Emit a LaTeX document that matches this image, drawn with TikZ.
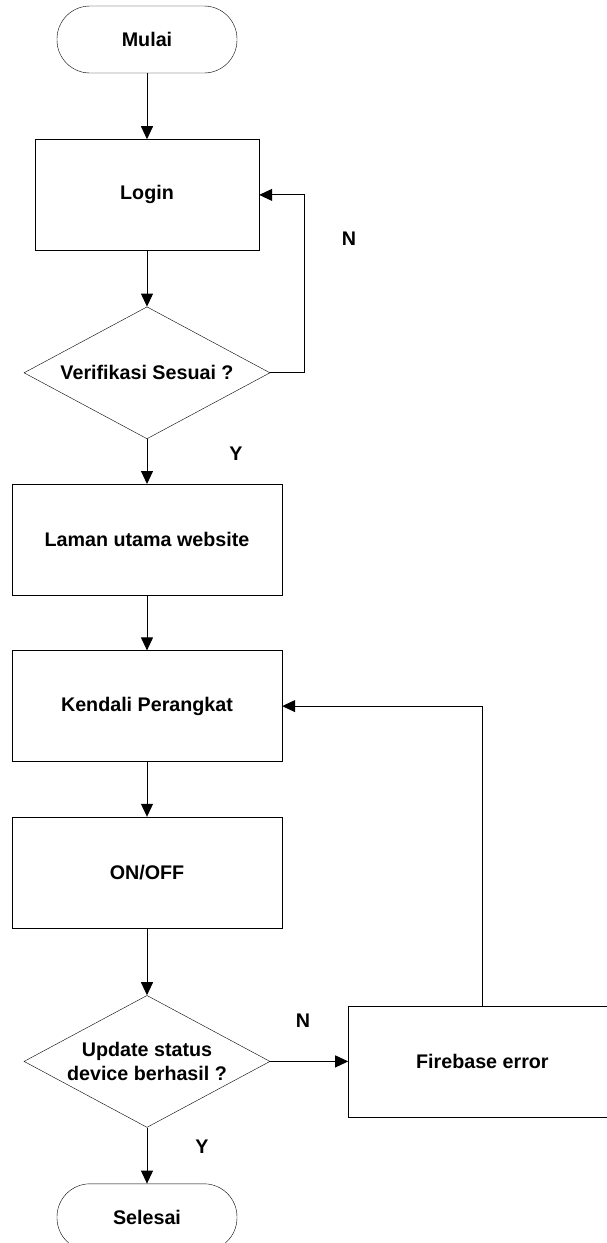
\documentclass[tikz,border=0pt]{standalone}
\usepackage{fontspec}
\setmainfont{Liberation Sans}
\usetikzlibrary{arrows.meta, positioning, shapes.geometric}

\begin{document}
\begin{tikzpicture}[
  x=1pt, y=-1pt,
  font=\fontsize{19.7}{23.5}\selectfont\bfseries,
  node distance=55pt,
  terminal/.style={draw, rounded corners=33pt, minimum width=180pt, minimum height=67pt, inner sep=0pt},
  box/.style={draw, align=center, minimum width=270pt, minimum height=111pt, inner sep=0pt},
  decision/.style={draw, diamond, align=center, aspect=1.86, minimum width=246pt, minimum height=132pt, inner sep=0pt},
  yn/.style={inner sep=0pt},
  arr/.style={-{Triangle[length=13pt, width=12pt]}, line width=1pt}
]
\useasboundingbox (0,0) rectangle (607,1243);

\node[terminal] (mulai) at (147,39.5) {Mulai};
\node[box, minimum width=224pt, below=66pt of mulai] (login) {Login};
\node[decision, below=56pt of login] (verif) {Verifikasi Sesuai ?};
\node[box, below=45pt of verif] (laman) {Laman utama website};
\node[box, below=of laman] (kendali) {Kendali Perangkat};
\node[box, below=of kendali] (onoff) {ON/OFF};
\node[decision, below=67pt of onoff] (update) {Update status\\device berhasil ?};
\node[terminal, below=56pt of update] (selesai) {Selesai};
\node[box, minimum width=268pt, right=78pt of update] (firebase) {Firebase error};

% labels Y / N
\node[yn] (n1) at (349,239) {N};
\node[yn] (y1) at (236,454) {Y};
\node[yn] (n2) at (303,1021) {N};
\node[yn] (y2) at (202,1147) {Y};

\draw[arr] (mulai) -- (login);
\draw[arr] (login) -- (verif);
\draw[arr] (verif.east) -- ++(34,0) |- (login.east);
\draw[arr] (verif) -- (laman);
\draw[arr] (laman) -- (kendali);
\draw[arr] (kendali) -- (onoff);
\draw[arr] (onoff) -- (update);
\draw[arr] (update) -- (firebase);
\draw[arr] (firebase.north) |- (kendali.east);
\draw[arr] (update) -- (selesai);
\end{tikzpicture}
\end{document}
